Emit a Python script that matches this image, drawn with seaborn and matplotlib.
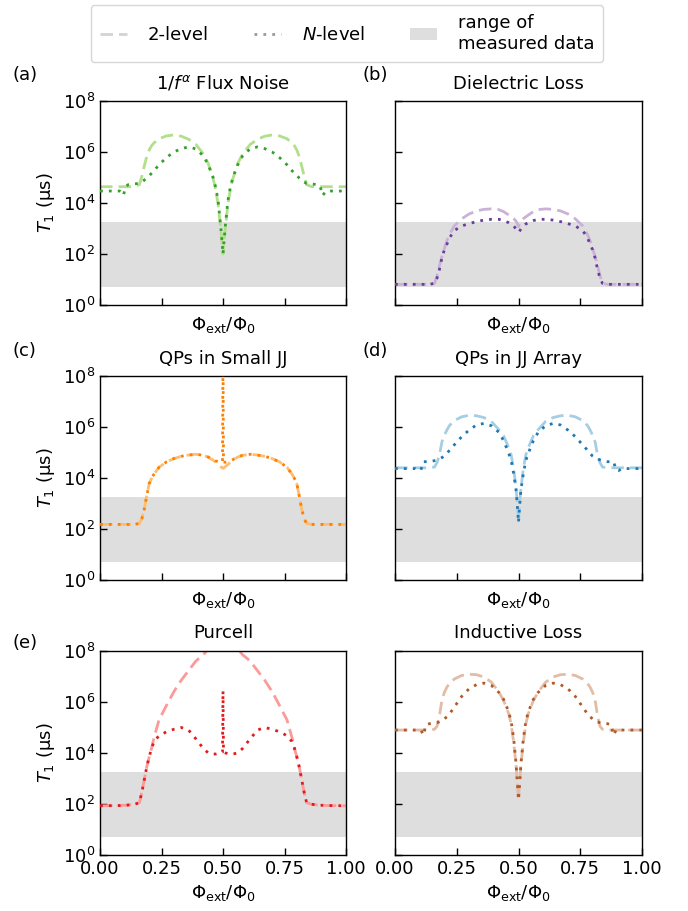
import numpy as np
import pandas as pd
import matplotlib
matplotlib.use("Agg")
import matplotlib.pyplot as plt
import seaborn as sns
from matplotlib.lines import Line2D
from matplotlib.patches import Patch
from matplotlib.ticker import NullLocator, FixedLocator, NullFormatter

# ---------------- data (log10 of T1 in microseconds) ----------------
flux = [0.00, 0.08, 0.095, 0.105, 0.115, 0.125, 0.14, 0.16, 0.17, 0.18, 0.19, 0.20, 0.21, 0.22,
        0.24, 0.27, 0.30, 0.33, 0.36, 0.39, 0.42, 0.44, 0.46, 0.47, 0.48, 0.49, 0.495, 0.498,
        0.50,
        0.502, 0.505, 0.51, 0.52, 0.53, 0.54, 0.56, 0.58, 0.61, 0.64, 0.67, 0.70, 0.73, 0.76,
        0.78, 0.79, 0.80, 0.81, 0.82, 0.83, 0.84, 0.86, 0.875, 0.885, 0.895, 0.905, 0.92, 1.00]

flux_2level = [4.64, 4.64, 4.64, 4.64, 4.64, 4.64, 4.64, 4.72, 5.05, 5.45, 5.82, 6.08, 6.25, 6.36,
               6.52, 6.63, 6.67, 6.62, 6.50, 6.29, 5.93, 5.55, 4.95, 4.55, 3.95, 3.05, 2.55, 2.20,
               2.00,
               2.20, 2.55, 3.05, 3.95, 4.55, 4.95, 5.55, 5.93, 6.29, 6.50, 6.62, 6.67, 6.63, 6.52,
               6.36, 6.25, 6.08, 5.82, 5.45, 5.05, 4.72, 4.64, 4.64, 4.64, 4.64, 4.64, 4.64, 4.64]
flux_nlevel = [4.47, 4.47, 4.30, 4.65, 4.72, 4.73, 4.75, 4.77, 4.82, 4.90, 4.98, 5.07, 5.17, 5.27,
               5.50, 5.78, 6.00, 6.13, 6.20, 6.12, 5.85, 5.50, 5.00, 4.62, 4.10, 3.15, 2.60, 2.25,
               2.00,
               2.25, 2.60, 3.15, 4.10, 4.62, 5.00, 5.50, 5.85, 6.12, 6.20, 6.13, 6.00, 5.78, 5.50,
               5.27, 5.17, 5.07, 4.98, 4.90, 4.82, 4.77, 4.75, 4.73, 4.72, 4.65, 4.30, 4.47, 4.47]

diel_2level = [0.81, 0.81, 0.81, 0.81, 0.81, 0.81, 0.81, 0.85, 1.15, 1.55, 1.90, 2.22, 2.52, 2.75,
               3.10, 3.38, 3.57, 3.69, 3.75, 3.77, 3.74, 3.66, 3.53, 3.46, 3.39, 3.29, 3.20, 3.12,
               3.07,
               3.12, 3.20, 3.29, 3.39, 3.46, 3.53, 3.66, 3.74, 3.77, 3.75, 3.69, 3.57, 3.38, 3.10,
               2.75, 2.52, 2.22, 1.90, 1.55, 1.15, 0.85, 0.81, 0.81, 0.81, 0.81, 0.81, 0.81, 0.81]
diel_nlevel = [0.81, 0.81, 0.81, 0.81, 0.81, 0.81, 0.81, 0.85, 1.05, 1.40, 1.85, 2.17, 2.38, 2.62,
               2.92, 3.10, 3.19, 3.27, 3.33, 3.36, 3.36, 3.31, 3.23, 3.18, 3.11, 2.98, 2.91, 2.87,
               2.85,
               2.87, 2.91, 2.98, 3.11, 3.18, 3.23, 3.31, 3.36, 3.36, 3.33, 3.27, 3.19, 3.10, 2.92,
               2.62, 2.38, 2.17, 1.85, 1.40, 1.05, 0.85, 0.81, 0.81, 0.81, 0.81, 0.81, 0.81, 0.81]

qpsmall_2level = [2.18, 2.18, 2.18, 2.18, 2.18, 2.18, 2.18, 2.22, 2.40, 2.78, 3.30, 3.78, 3.99, 4.16,
                  4.42, 4.63, 4.76, 4.85, 4.90, 4.93, 4.89, 4.82, 4.70, 4.62, 4.53, 4.45, 4.41, 4.39,
                  4.38,
                  4.39, 4.41, 4.45, 4.53, 4.62, 4.70, 4.82, 4.89, 4.93, 4.90, 4.85, 4.76, 4.63, 4.42,
                  4.16, 3.99, 3.78, 3.30, 2.78, 2.40, 2.22, 2.18, 2.18, 2.18, 2.18, 2.18, 2.18, 2.18]
qpsmall_nlevel = [2.18, 2.18, 2.18, 2.18, 2.18, 2.18, 2.18, 2.22, 2.40, 2.78, 3.30, 3.78, 3.99, 4.16,
                  4.42, 4.63, 4.76, 4.85, 4.90, 4.93, 4.89, 4.82, 4.72, 4.67, 4.64, 4.62, 4.62, 4.62,
                  9.00,
                  4.62, 4.62, 4.62, 4.64, 4.67, 4.72, 4.82, 4.89, 4.93, 4.90, 4.85, 4.76, 4.63, 4.42,
                  4.16, 3.99, 3.78, 3.30, 2.78, 2.40, 2.22, 2.18, 2.18, 2.18, 2.18, 2.18, 2.18, 2.18]

qparray_2level = [4.40, 4.40, 4.40, 4.40, 4.40, 4.40, 4.40, 4.43, 4.60, 4.90, 5.42, 5.68, 5.88, 6.05,
                  6.25, 6.40, 6.46, 6.44, 6.37, 6.22, 5.90, 5.65, 5.20, 4.92, 4.40, 3.60, 3.05, 2.60,
                  2.22,
                  2.60, 3.05, 3.60, 4.40, 4.92, 5.20, 5.65, 5.90, 6.22, 6.37, 6.44, 6.46, 6.40, 6.25,
                  6.05, 5.88, 5.68, 5.42, 4.90, 4.60, 4.43, 4.40, 4.40, 4.40, 4.40, 4.40, 4.40, 4.40]
qparray_nlevel = [4.37, 4.37, 4.29, 4.32, 4.64, 4.64, 4.64, 4.68, 4.71, 4.75, 4.80, 4.86, 4.96, 5.08,
                  5.30, 5.62, 5.88, 6.08, 6.14, 6.05, 5.80, 5.46, 4.98, 4.70, 4.20, 3.55, 2.95, 2.55,
                  2.25,
                  2.55, 2.95, 3.55, 4.20, 4.70, 4.98, 5.46, 5.80, 6.05, 6.14, 6.08, 5.88, 5.62, 5.30,
                  5.08, 4.96, 4.86, 4.80, 4.75, 4.71, 4.68, 4.64, 4.64, 4.64, 4.32, 4.29, 4.37, 4.37]

purcell_2level = [1.93, 1.94, 1.95, 1.95, 1.96, 1.97, 1.99, 2.05, 2.45, 2.95, 3.45, 3.85, 4.20, 4.62,
                  5.30, 5.86, 6.40, 6.85, 7.23, 7.61, 7.85, 8.08, 8.40, 8.50, 8.60, 8.70, 8.70, 8.70,
                  8.70,
                  8.70, 8.70, 8.70, 8.60, 8.50, 8.40, 8.08, 7.85, 7.61, 7.23, 6.85, 6.40, 5.86, 5.30,
                  4.62, 4.20, 3.85, 3.45, 2.95, 2.45, 2.05, 1.99, 1.97, 1.96, 1.95, 1.95, 1.94, 1.93]
purcell_nlevel = [1.93, 1.94, 1.95, 1.95, 1.96, 1.97, 1.99, 2.05, 2.45, 2.95, 3.45, 3.85, 4.20, 4.45,
                  4.68, 4.83, 4.93, 5.00, 4.90, 4.55, 4.18, 4.00, 3.96, 3.96, 3.98, 4.00, 4.02, 4.03,
                  6.44,
                  4.03, 4.02, 4.00, 3.98, 3.96, 3.96, 4.00, 4.18, 4.55, 4.90, 5.00, 4.93, 4.83, 4.68,
                  4.45, 4.20, 3.85, 3.45, 2.95, 2.45, 2.05, 1.99, 1.97, 1.96, 1.95, 1.95, 1.94, 1.93]

induct_2level = [4.90, 4.90, 4.90, 4.90, 4.90, 4.90, 4.90, 4.93, 5.05, 5.45, 6.08, 6.38, 6.58, 6.72,
                 6.90, 7.04, 7.09, 7.07, 6.98, 6.78, 6.40, 6.05, 5.55, 5.15, 4.45, 3.55, 2.85, 2.45,
                 2.16,
                 2.45, 2.85, 3.55, 4.45, 5.15, 5.55, 6.05, 6.40, 6.78, 6.98, 7.07, 7.09, 7.04, 6.90,
                 6.72, 6.58, 6.38, 6.08, 5.45, 5.05, 4.93, 4.90, 4.90, 4.90, 4.90, 4.90, 4.90, 4.90]
induct_nlevel = [4.90, 4.90, 4.90, 4.90, 4.70, 5.10, 5.15, 5.17, 5.19, 5.22, 5.27, 5.34, 5.42, 5.52,
                 5.80, 6.22, 6.52, 6.68, 6.74, 6.65, 6.38, 6.10, 5.62, 5.25, 4.60, 3.60, 2.85, 2.45,
                 2.16,
                 2.45, 2.85, 3.60, 4.60, 5.25, 5.62, 6.10, 6.38, 6.65, 6.74, 6.68, 6.52, 6.22, 5.80,
                 5.52, 5.42, 5.34, 5.27, 5.22, 5.19, 5.17, 5.15, 5.10, 4.70, 4.90, 4.90, 4.90, 4.90]

titles = [r"1/$f^{\alpha}$ Flux Noise", "Dielectric Loss", "QPs in Small JJ",
          "QPs in JJ Array", "Purcell", "Inductive Loss"]
panel_tags = ["(a)", "(b)", "(c)", "(d)", "(e)", ""]
light_colors = ["#b2df8a", "#cab2d6", "#fdbf6f", "#a6cee3", "#fb9a99", "#e2bca5"]
dark_colors = ["#33a02c", "#6a3d9a", "#ff7f00", "#1f78b4", "#e31a1c", "#b15928"]
measured_range = (5.0, 1.8e3)
y_ticks = [1e0, 1e2, 1e4, 1e6, 1e8]
x_ticks = [0.0, 0.25, 0.5, 0.75, 1.0]

curves = [(flux_2level, flux_nlevel), (diel_2level, diel_nlevel),
          (qpsmall_2level, qpsmall_nlevel), (qparray_2level, qparray_nlevel),
          (purcell_2level, purcell_nlevel), (induct_2level, induct_nlevel)]

# ---------------- style ----------------
sns.set_theme(style="ticks", rc={
    "axes.edgecolor": "black", "axes.linewidth": 1.0,
    "xtick.color": "black", "ytick.color": "black",
    "text.color": "black", "axes.labelcolor": "black",
})
plt.rcParams["font.family"] = ["DejaVu Sans"]
plt.rcParams["mathtext.fontset"] = "dejavusans"
FS = 13
plt.rcParams["font.size"] = FS

W, H = 688, 911
fig = plt.figure(figsize=(W / 100, H / 100), dpi=100)

col_left = [100, 395]
col_w = [246, 247]
row_top = [101, 376, 651]
ax_h = 204
tag_pos = [(13, 75), (362, 75), (13, 351), (362, 351), (13, 643), None]

for i, (two, nlev) in enumerate(curves):
    r, c = divmod(i, 2)
    rect = [col_left[c] / W, 1 - (row_top[r] + ax_h) / H, col_w[c] / W, ax_h / H]
    ax = fig.add_axes(rect)
    df = pd.DataFrame({
        "flux": flux,
        "two": np.power(10.0, two),
        "nlev": np.power(10.0, nlev),
    })
    ax.axhspan(*measured_range, color="#dedede", lw=0, zorder=0)
    sns.lineplot(data=df, x="flux", y="two", ax=ax, color=light_colors[i],
                 linestyle=(0, (4.5, 2.2)), linewidth=2.0, estimator=None, zorder=2)
    sns.lineplot(data=df, x="flux", y="nlev", ax=ax, color=dark_colors[i],
                 linestyle=(0, (1, 2.2)), linewidth=2.0, estimator=None, zorder=3)
    ax.set_yscale("log")
    ax.set_ylim(1, 1e8)
    ax.set_xlim(0, 1)
    ax.yaxis.set_major_locator(FixedLocator(y_ticks))
    ax.yaxis.set_minor_locator(NullLocator())
    ax.xaxis.set_major_locator(FixedLocator(x_ticks))
    ax.tick_params(direction="in", length=5, width=1, labelsize=FS,
                   top=False, right=False)
    ax.set_title(titles[i], fontsize=FS, pad=9)
    ax.set_xlabel(r"$\Phi_{\rm ext}/\Phi_0$", fontsize=FS)
    if c == 0:
        ax.set_ylabel(r"$T_1$ (μs)", fontsize=FS)
    else:
        ax.set_ylabel("")
        ax.yaxis.set_major_formatter(NullFormatter())
    if r < 2:
        ax.xaxis.set_major_formatter(NullFormatter())
    else:
        ax.set_xticklabels(["0.00", "0.25", "0.50", "0.75", "1.00"])
    for sp in ax.spines.values():
        sp.set_visible(True)
        sp.set_color("black")
    if tag_pos[i] is not None:
        tx, ty = tag_pos[i]
        fig.text(tx / W, 1 - ty / H, panel_tags[i], fontsize=FS, ha="left", va="center")

handles = [
    Line2D([], [], color="#d3d3d3", linestyle=(0, (4.5, 2.2)), linewidth=2.0),
    Line2D([], [], color="#999999", linestyle=(0, (1, 2.2)), linewidth=2.0),
    Patch(facecolor="#dedede", edgecolor="none"),
]
labels = ["2-level", r"$N$-level", "range of\nmeasured data"]
fig.legend(handles, labels, loc="upper center", bbox_to_anchor=(347 / W, 1 - 5 / H),
           ncol=3, fontsize=FS, frameon=True, handlelength=1.5, handletextpad=1.15,
           columnspacing=2.5, fancybox=True, edgecolor="#cccccc", borderpad=0.5,
           borderaxespad=0.0)

fig.savefig("out.png", dpi=100)
